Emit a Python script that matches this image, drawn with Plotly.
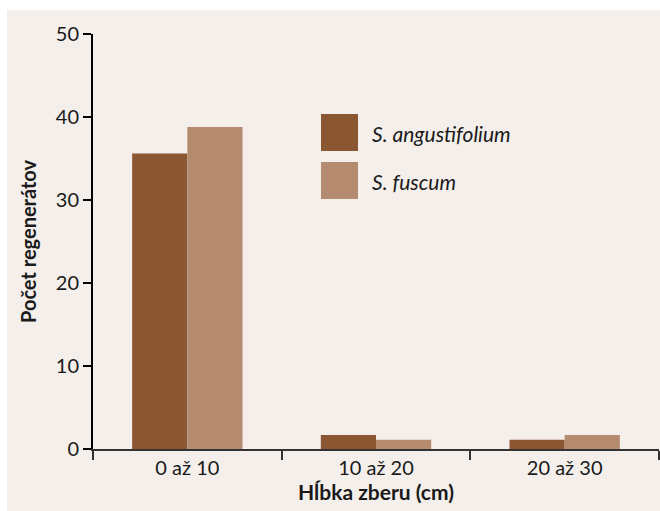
import plotly.graph_objects as go

categories = ["0 až 10", "10 až 20", "20 až 30"]
s_angustifolium = [35.6, 1.7, 1.1]
s_fuscum = [38.8, 1.1, 1.7]
series_names = ["S. angustifolium", "S. fuscum"]
y_ticks = [0, 10, 20, 30, 40, 50]

DARK = "#8b5632"
LIGHT = "#b48b6e"
BG = "#f4efeb"
FONT = "Lato"
TXT = "#1a1a1a"

fig = go.Figure()
fig.add_trace(go.Bar(x=categories, y=s_angustifolium, name=series_names[0],
                     marker=dict(color=DARK, line=dict(width=0)), showlegend=False))
fig.add_trace(go.Bar(x=categories, y=s_fuscum, name=series_names[1],
                     marker=dict(color=LIGHT, line=dict(width=0)), showlegend=False))

L, T, R, B = 93, 34, 1, 62
W, H = 660, 511
pw, ph = W - L - R, H - T - B

def px2paper(x, y):
    return (x - L) / pw, (H - B - y) / ph

# background panel (white strip at top/left as in the reference)
bx0, by0 = px2paper(7, 530)
bx1, by1 = px2paper(680, 10)
shapes = [dict(type="rect", xref="paper", yref="paper", x0=bx0, y0=by0, x1=bx1, y1=by1,
               fillcolor=BG, line=dict(width=0), layer="below")]
annotations = []
for i, (name, col) in enumerate(zip(series_names, [DARK, LIGHT])):
    top = 114 + i * 48
    ax0, ay0 = px2paper(321, top + 37)
    ax1, ay1 = px2paper(358, top)
    shapes.append(dict(type="rect", xref="paper", yref="paper", x0=ax0, y0=ay0, x1=ax1, y1=ay1,
                       fillcolor=col, line=dict(width=0)))
    tx, ty = px2paper(370, top + 19)
    annotations.append(dict(xref="paper", yref="paper", x=tx, y=ty, text="<i>" + name + "</i>",
                            showarrow=False, xanchor="left", yanchor="middle",
                            font=dict(family=FONT, size=21, color=TXT)))

fig.update_layout(
    width=W, height=H,
    margin=dict(l=L, r=R, t=T, b=B, pad=0),
    paper_bgcolor="white",
    plot_bgcolor="rgba(0,0,0,0)",
    barmode="group",
    bargap=0.415,
    bargroupgap=0,
    font=dict(family=FONT, size=20, color=TXT),
    shapes=shapes,
    annotations=annotations,
    xaxis=dict(
        range=[-0.5, 2.5], showgrid=False, zeroline=False,
        showline=True, linecolor="#333333", linewidth=2,
        ticks="outside", ticklen=9, tickwidth=2, tickcolor="#333333",
        tickson="boundaries",
        tickfont=dict(family=FONT, size=20, color=TXT),
        title=dict(text="<b>Hĺbka zberu (cm)</b>", standoff=6,
                   font=dict(family=FONT, size=21, color=TXT)),
    ),
    yaxis=dict(
        range=[0, 50], tickvals=y_ticks, showgrid=False, zeroline=False,
        showline=True, linecolor="black", linewidth=2,
        ticks="outside", ticklen=8, tickwidth=2, tickcolor="black",
        tickfont=dict(family=FONT, size=20, color=TXT),
        title=dict(text="<b>Počet regenerátov</b>", standoff=14,
                   font=dict(family=FONT, size=20, color=TXT)),
    ),
)

fig.write_html("out.html",
               config={"displayModeBar": False, "staticPlot": True},
               post_script="document.body.style.margin='0';document.body.style.overflow='hidden';")
